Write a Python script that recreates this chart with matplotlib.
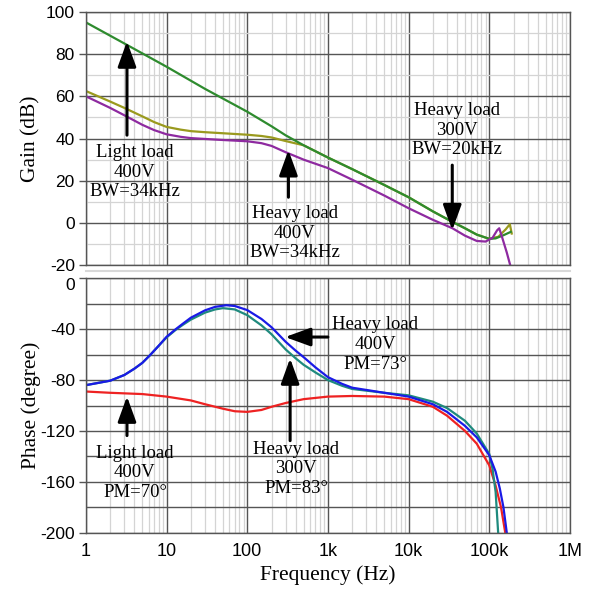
import matplotlib
matplotlib.use("Agg")
import matplotlib.pyplot as plt
from matplotlib.ticker import FixedLocator, NullFormatter, LogLocator
from matplotlib.lines import Line2D

plt.rcParams["axes.unicode_minus"] = False

# gain curves (Hz, dB)
f_light_gain = [1, 3, 10, 30, 100, 200, 300, 500, 1e3, 2e3, 5e3, 1e4, 2e4, 3.5e4, 5e4, 7e4, 1e5, 1.2e5, 1.5e5, 1.85e5]
light_gain = [95, 85, 74, 63.5, 52.7, 45.8, 41.5, 36.8, 31, 25.5, 18, 12.2, 5.5, 0.5, -2.5, -5.5, -7.5, -7.3, -5.8, -4.2]

f_h400_gain = [1, 2, 3, 5, 7, 10, 15, 20, 30, 50, 100, 150, 200, 300, 500, 1e3, 2e3, 5e3, 1e4, 2e4, 3.5e4, 5e4, 7e4, 1e5, 1.3e5, 1.6e5, 1.8e5, 1.9e5]
h400_gain = [62.5, 57.5, 54.5, 50.5, 47.8, 45.5, 44.2, 43.5, 43, 42.5, 41.8, 41.2, 40.5, 38.8, 36.8, 31, 25.5, 18, 12.2, 5.5, 0.5, -2.5, -5.5, -7.5, -6.5, -3, -0.6, -5]

f_h300_gain = [1, 2, 3, 5, 7, 10, 15, 20, 50, 100, 150, 200, 300, 500, 1e3, 2e3, 5e3, 1e4, 2e4, 3.5e4, 5e4, 7e4, 9e4, 1.1e5, 1.25e5, 1.33e5, 1.45e5, 1.65e5, 1.82e5]
h300_gain = [60, 54.5, 51, 46.5, 44, 42, 40.8, 40.2, 39.3, 38.7, 37.8, 36.5, 33.5, 30, 26, 20.5, 13, 7, 1.5, -2.5, -6, -8.5, -8.8, -7, -3.5, -2.5, -7, -14, -20]

# phase curves (Hz, degree)
f_h400_phase = [1, 2, 3, 4, 5, 6.2, 8, 10, 13, 16, 20, 30, 40, 55, 70, 100, 150, 200, 300, 400, 500, 700, 1e3, 1.5e3, 2e3, 5e3, 1e4, 2e4, 3e4, 5e4, 7e4, 1e5, 1.2e5, 1.35e5, 1.5e5, 1.65e5]
h400_phase = [-84, -80.5, -76, -71, -66.5, -60.6, -53, -46, -40, -35.6, -31, -25.2, -22.5, -21.2, -21.8, -25, -32, -38.5, -50, -57, -62, -70, -77.7, -83, -86, -90, -93, -99, -105, -116, -125, -139, -152, -165, -180, -200]

f_teal_phase = [1, 2, 3, 4, 5, 6.2, 8, 10, 13, 16, 20, 30, 40, 50, 70, 100, 150, 200, 300, 400, 500, 700, 1e3, 1.5e3, 2e3, 5e3, 1e4, 2e4, 3e4, 5e4, 7e4, 1e5, 1.1e5, 1.2e5, 1.29e5]
teal_phase = [-84, -80.5, -76, -71, -66.5, -60.6, -53, -46.5, -40.5, -36.5, -32.5, -27, -24.5, -23.5, -24.5, -29, -37, -44, -56, -63, -68, -74, -80, -84.5, -87, -90, -92, -97, -102, -112, -122, -138, -150, -168, -200]

f_light_phase = [1, 2, 5, 10, 20, 30, 50, 70, 100, 150, 200, 300, 500, 1e3, 2e3, 5e3, 1e4, 2e4, 3e4, 5e4, 7e4, 1e5, 1.2e5, 1.4e5, 1.58e5]
light_phase = [-89, -90, -91, -93, -96, -99, -102.5, -104.5, -105, -103.5, -101, -98, -95, -93, -92.5, -93, -95, -101, -108, -120, -130, -147, -163, -180, -200]

x_ticks = [1, 10, 100, 1e3, 1e4, 1e5, 1e6]
x_labels = ["1", "10", "100", "1k", "10k", "100k", "1M"]

serif = "Liberation Serif"
sans = "Liberation Sans"

fig = plt.figure(figsize=(6.05, 5.92), dpi=100)
ax1 = fig.add_axes([0.142, 0.552, 0.800, 0.428])
ax2 = fig.add_axes([0.142, 0.100, 0.800, 0.430])

major_c = "#555555"
minor_c = "#d4d4d4"

for ax in (ax1, ax2):
    ax.set_xscale("log")
    ax.set_xlim(1, 1e6)
    ax.xaxis.set_major_locator(FixedLocator(x_ticks))
    ax.xaxis.set_minor_locator(LogLocator(base=10, subs=range(2, 10), numticks=20))
    ax.xaxis.set_minor_formatter(NullFormatter())
    ax.set_axisbelow(True)
    ax.grid(True, which="minor", color=minor_c, lw=0.9)
    ax.grid(True, which="major", color=major_c, lw=1.0)
    for s in ax.spines.values():
        s.set_color(major_c)
        s.set_linewidth(1.0)
    ax.tick_params(axis="x", which="both", length=0)
    ax.tick_params(axis="y", which="major", length=5, width=1, color=major_c, pad=3)
    ax.tick_params(axis="y", which="minor", length=0)

# ---- gain ----
ax1.set_ylim(-20, 100)
ax1.set_yticks(range(-20, 101, 20))
ax1.yaxis.set_minor_locator(FixedLocator(range(-10, 100, 20)))
ax1.grid(True, which="minor", axis="y", color=minor_c, lw=0.9)
ax1.set_xticklabels([])
ax1.plot(f_light_gain, light_gain, color="#2e8b2e", lw=1.6)
ax1.plot(f_h400_gain, h400_gain, color="#9a9a1e", lw=1.6, zorder=1.9)
ax1.plot(f_h300_gain, h300_gain, color="#8e2aa0", lw=1.6)
ax1.set_ylabel("Gain (dB)", fontfamily=serif, fontsize=15.5)

# ---- phase ----
ax2.set_ylim(-200, 0)
ax2.set_yticks(range(-200, 1, 40))
ax2.yaxis.set_minor_locator(FixedLocator(range(-180, 0, 40)))
ax2.grid(True, which="minor", axis="y", color=major_c, lw=1.0)
ax2.set_xticks(x_ticks)
ax2.set_xticklabels(x_labels, fontfamily=sans, fontsize=13)
ax2.tick_params(axis="x", pad=7)
ax2.plot(f_light_phase, light_phase, color="#ee2222", lw=1.6)
ax2.plot(f_teal_phase, teal_phase, color="#1f8a7e", lw=1.6)
ax2.plot(f_h400_phase, h400_phase, color="#1a1ae6", lw=1.6)
ax2.set_ylabel("Phase (degree)", fontfamily=serif, fontsize=15.5)
ax2.set_xlabel("Frequency (Hz)", fontfamily=serif, fontsize=15.5, labelpad=4)

for ax in (ax1, ax2):
    for lab in ax.get_yticklabels():
        lab.set_fontfamily(sans)
        lab.set_fontsize(12.5)

# the "0" of the phase panel sits just below its line, clear of "-20"
ax2.yaxis.get_major_ticks()[-1].label1.set_va("top")

arrow = dict(arrowstyle="-|>,head_width=0.4,head_length=1.1", color="black",
             lw=2.2, mutation_scale=14, shrinkA=0, shrinkB=0)
txt = dict(ha="center", va="center", fontfamily=serif, fontsize=13.5, linespacing=1.2)

ax1.annotate("", xy=(3.23, 86), xytext=(3.23, 41.6), arrowprops=arrow)
ax1.text(4.05, 24.1, "Light load\n400V\nBW=34kHz", **txt)
ax1.annotate("", xy=(324, 34.5), xytext=(324, 12.2), arrowprops=arrow)
ax1.text(386, -4.8, "Heavy load\n400V\nBW=34kHz", **txt)
ax1.annotate("", xy=(34800, -3.4), xytext=(34800, 27.4), arrowprops=arrow)
ax1.text(40100, 44, "Heavy load\n300V\nBW=20kHz", **txt)

ax2.annotate("", xy=(3.23, -92.9), xytext=(3.23, -123.6), arrowprops=arrow)
ax2.text(4.05, -152.8, "Light load\n400V\nPM=70°", **txt)
ax2.annotate("", xy=(340, -63), xytext=(340, -127.6), arrowprops=arrow)
ax2.text(403, -149.6, "Heavy load\n300V\nPM=83°", **txt)
ax2.annotate("", xy=(295, -46.2), xytext=(1000, -46.2), arrowprops=arrow)
ax2.text(3850, -52, "Heavy load\n400V\nPM=73°", **txt)

# light separator strip between the two panels
fig.add_artist(Line2D([0.142, 0.942], [1 - 271 / 592, 1 - 271 / 592],
                      transform=fig.transFigure, color="#d8d8d8", lw=1.5))

ax1.yaxis.set_label_coords(-0.093, 0.5)
ax2.yaxis.set_label_coords(-0.093, 0.5)

fig.savefig("out.png", dpi=100)
